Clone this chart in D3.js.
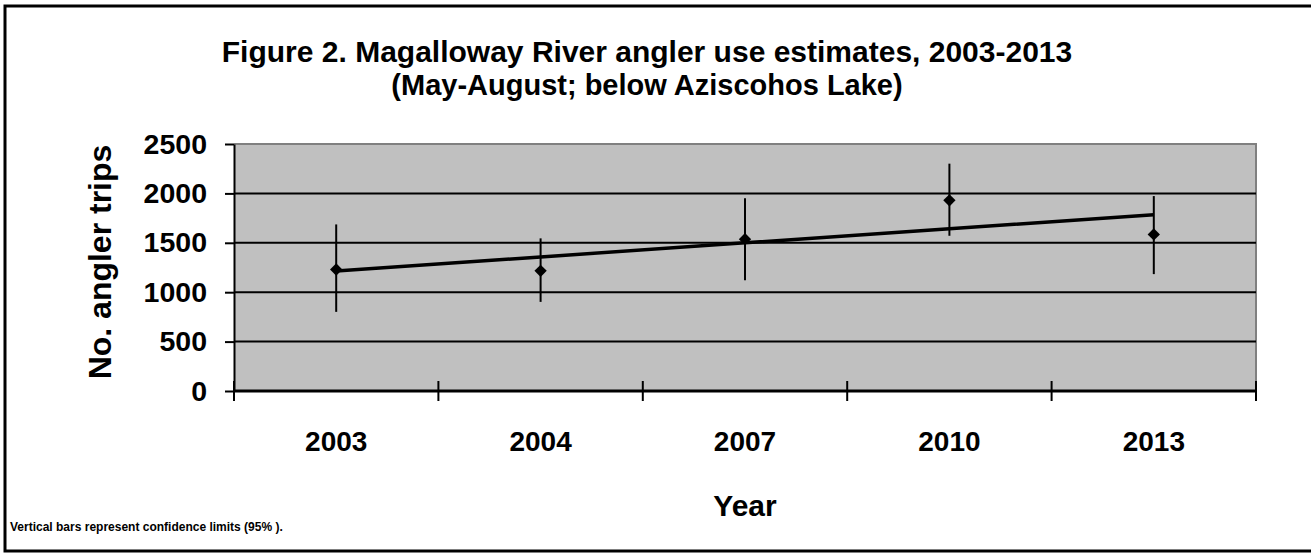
<!DOCTYPE html>
<html>
<head>
<meta charset="utf-8">
<script src="https://cdn.jsdelivr.net/npm/d3@7"></script>
<style>
    body { margin: 0; background: #ffffff; }
    svg { display: block; }
    text { font-family: "Liberation Sans", Arial, sans-serif; font-weight: bold; fill: #000; }
</style>
</head>
<body>
<svg id="chart"></svg>
<script>
// chart data
const years = ["2003", "2004", "2007", "2010", "2013"];
const estimates = [1230, 1216, 1537, 1930, 1585];
const lowerLimits = [801, 902, 1122, 1571, 1183];
const upperLimits = [1686, 1545, 1950, 2301, 1973];
const yTicks = [0, 500, 1000, 1500, 2000, 2500];

const width = 1311, height = 554;
const plot = {left: 234, right: 1256, top: 144, bottom: 391};

const svg = d3.select("#chart")
    .attr("width", width)
    .attr("height", height);

svg.append("rect")
    .attr("width", width)
    .attr("height", height)
    .attr("fill", "#ffffff");

// outer frame (left, top, bottom)
svg.append("path")
    .attr("d", `M${width + 5},6 H5 V551 H${width + 5}`)
    .attr("fill", "none")
    .attr("stroke", "#000")
    .attr("stroke-width", 3);

// Scales
const x = d3.scaleBand()
    .domain(years)
    .range([plot.left, plot.right]);

const y = d3.scaleLinear()
    .domain([0, 2500])
    .range([plot.bottom, plot.top]);

// plot area
svg.append("rect")
    .attr("x", plot.left)
    .attr("y", plot.top)
    .attr("width", plot.right - plot.left)
    .attr("height", plot.bottom - plot.top)
    .attr("fill", "#c0c0c0");

svg.append("path")
    .attr("d", `M${plot.left},${plot.top} H${plot.right} V${plot.bottom}`)
    .attr("fill", "none")
    .attr("stroke", "#808080")
    .attr("stroke-width", 2);

// gridlines
svg.append("g")
    .selectAll("line")
    .data(yTicks.filter(d => d > 0 && d < 2500))
    .enter()
    .append("line")
    .attr("x1", plot.left)
    .attr("x2", plot.right)
    .attr("y1", d => y(d))
    .attr("y2", d => y(d))
    .attr("stroke", "#000")
    .attr("stroke-width", 2);

// y axis
const yAxis = svg.append("g")
    .attr("transform", `translate(${plot.left},0)`)
    .call(d3.axisLeft(y).tickValues(yTicks).tickFormat(d3.format("d"))
        .tickSize(9).tickPadding(18).tickSizeOuter(0));
yAxis.select(".domain").attr("stroke", "#000").attr("stroke-width", 2);
yAxis.selectAll(".tick line").attr("stroke", "#000").attr("stroke-width", 2);
yAxis.selectAll(".tick text")
    .style("font-size", "28.5px")
    .style("font-family", "'Liberation Sans', Arial, sans-serif")
    .style("font-weight", "bold")
    .attr("fill", "#000");

// x axis: labels centred in bands, ticks on band boundaries
const xAxis = svg.append("g")
    .attr("transform", `translate(0,${plot.bottom})`)
    .call(d3.axisBottom(x).tickSize(0).tickPadding(40).tickSizeOuter(0));
xAxis.select(".domain").remove();
xAxis.selectAll(".tick text")
    .style("font-size", "28px")
    .style("font-family", "'Liberation Sans', Arial, sans-serif")
    .style("font-weight", "bold")
    .attr("fill", "#000");

svg.append("line")
    .attr("x1", plot.left - 1)
    .attr("x2", plot.right)
    .attr("y1", plot.bottom)
    .attr("y2", plot.bottom)
    .attr("stroke", "#000")
    .attr("stroke-width", 3);

const bounds = years.map(d => x(d)).concat([x(years[years.length - 1]) + x.bandwidth()]);
svg.append("g")
    .selectAll("line")
    .data(bounds)
    .enter()
    .append("line")
    .attr("x1", d => d)
    .attr("x2", d => d)
    .attr("y1", plot.bottom - 10)
    .attr("y2", plot.bottom + 10)
    .attr("stroke", "#000")
    .attr("stroke-width", 2);

const cx = d => x(d) + x.bandwidth() / 2;

// error bars
svg.append("g")
    .selectAll("line")
    .data(years)
    .enter()
    .append("line")
    .attr("x1", cx)
    .attr("x2", cx)
    .attr("y1", (d, i) => y(lowerLimits[i]))
    .attr("y2", (d, i) => y(upperLimits[i]))
    .attr("stroke", "#000")
    .attr("stroke-width", 2);

// linear trend (least squares over the year index)
const n = estimates.length;
const xi = d3.range(1, n + 1);
const mx = d3.mean(xi), my = d3.mean(estimates);
const slope = d3.sum(xi, (v, i) => (v - mx) * (estimates[i] - my)) / d3.sum(xi, v => (v - mx) * (v - mx));
const intercept = my - slope * mx;

const trend = d3.line()
    .x(d => cx(d))
    .y((d, i) => y(intercept + slope * (i + 1)));

svg.append("path")
    .datum(years)
    .attr("fill", "none")
    .attr("stroke", "#000")
    .attr("stroke-width", 3.5)
    .attr("d", trend);

// diamond markers
svg.append("g")
    .selectAll("path")
    .data(years)
    .enter()
    .append("path")
    .attr("d", d3.symbol(d3.symbolSquare, 76))
    .attr("transform", (d, i) => `translate(${cx(d)},${y(estimates[i])}) rotate(45)`)
    .attr("fill", "#000");

// titles
svg.append("text")
    .attr("x", 647)
    .attr("y", 62)
    .attr("text-anchor", "middle")
    .style("font-size", "30px")
    .text("Figure 2. Magalloway River angler use estimates, 2003-2013");

svg.append("text")
    .attr("x", 647)
    .attr("y", 95)
    .attr("text-anchor", "middle")
    .style("font-size", "29px")
    .text("(May-August; below Aziscohos Lake)");

svg.append("text")
    .attr("transform", "translate(111,262) rotate(-90)")
    .attr("text-anchor", "middle")
    .style("font-size", "32px")
    .text("No. angler trips");

svg.append("text")
    .attr("x", 745)
    .attr("y", 516)
    .attr("text-anchor", "middle")
    .style("font-size", "30px")
    .text("Year");

svg.append("text")
    .attr("x", 10)
    .attr("y", 531)
    .style("font-size", "12px")
    .text("Vertical bars represent confidence limits (95% ).");
</script>
</body>
</html>
